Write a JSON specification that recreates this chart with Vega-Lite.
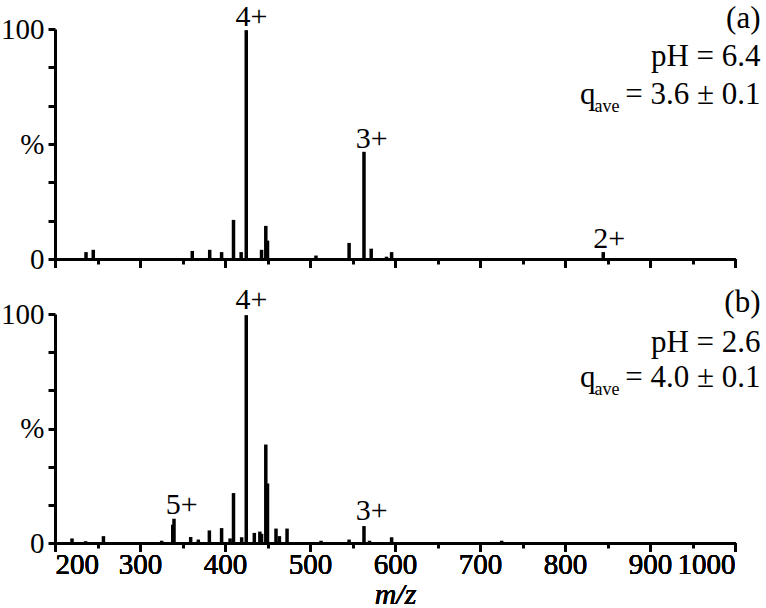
{
  "$schema": "https://vega.github.io/schema/vega-lite/v6.json",
  "padding": {"left": 0, "top": 1, "right": 0, "bottom": 0},
  "background": "white",
  "bounds": "flush",
  "spacing": 55,
  "config": {
    "font": "Liberation Serif",
    "view": {"stroke": null},
    "axis": {
      "domainColor": "black", "domainWidth": 3, "tickColor": "black", "tickWidth": 3, "tickSize": 7,
      "labelColor": "black", "labelFont": "Liberation Serif", "labelFontSize": 29,
      "grid": false, "titleFont": "Liberation Serif", "titleColor": "black"
    },
    "text": {"font": "Liberation Serif", "fontSize": 30, "color": "black"}
  },
  "datasets": {
    "peaksA": [
      {"mz": 236.5, "pct": 3}, {"mz": 245, "pct": 4}, {"mz": 361.5, "pct": 3.5}, {"mz": 382, "pct": 4},
      {"mz": 396, "pct": 3}, {"mz": 410, "pct": 17}, {"mz": 419, "pct": 3}, {"mz": 425, "pct": 99.5},
      {"mz": 443, "pct": 4}, {"mz": 448, "pct": 14.4}, {"mz": 450, "pct": 8}, {"mz": 507, "pct": 1.5},
      {"mz": 546, "pct": 7}, {"mz": 563.5, "pct": 46.6}, {"mz": 572, "pct": 4.5}, {"mz": 590, "pct": 1},
      {"mz": 596, "pct": 3}, {"mz": 845, "pct": 3}
    ],
    "peaksB": [
      {"mz": 220, "pct": 2}, {"mz": 236, "pct": 0.8}, {"mz": 257, "pct": 3}, {"mz": 325.5, "pct": 1},
      {"mz": 338.5, "pct": 8}, {"mz": 340, "pct": 10.6}, {"mz": 359.6, "pct": 2.6}, {"mz": 368.6, "pct": 1.5},
      {"mz": 381.6, "pct": 5.5}, {"mz": 396, "pct": 6.5}, {"mz": 406, "pct": 2}, {"mz": 410, "pct": 21.8},
      {"mz": 419.6, "pct": 2.5}, {"mz": 425, "pct": 99.5}, {"mz": 434.5, "pct": 4.4}, {"mz": 441, "pct": 5},
      {"mz": 443, "pct": 4}, {"mz": 448, "pct": 43}, {"mz": 450, "pct": 26}, {"mz": 460, "pct": 6.3},
      {"mz": 464, "pct": 3}, {"mz": 473, "pct": 6.3}, {"mz": 513, "pct": 1}, {"mz": 546, "pct": 1.5},
      {"mz": 563.5, "pct": 7.4}, {"mz": 570, "pct": 1}, {"mz": 596, "pct": 2.5}, {"mz": 725.5, "pct": 1}
    ],
    "labelsA": [
      {"mz": 431, "pct": 101.5, "label": "4+"},
      {"mz": 572.6, "pct": 48.2, "label": "3+"},
      {"mz": 852, "pct": 4.8, "label": "2+"}
    ],
    "labelsB": [
      {"mz": 431, "pct": 102.3, "label": "4+"},
      {"mz": 349, "pct": 12.8, "label": "5+"},
      {"mz": 572.6, "pct": 9.9, "label": "3+"}
    ],
    "notesA": [
      {"mz": 1030, "pct": 100.5, "text": "(a)"},
      {"mz": 1030, "pct": 83.8, "text": "pH = 6.4"},
      {"mz": 1030, "pct": 67.3, "text": "= 3.6 ± 0.1"}
    ],
    "qA": [{"mz": 1030, "pct": 67.3, "q": "q", "sub": "ave"}],
    "notesB": [
      {"mz": 1030, "pct": 100.9, "text": "(b)"},
      {"mz": 1030, "pct": 83.4, "text": "pH = 2.6"},
      {"mz": 1030, "pct": 68.1, "text": "= 4.0 ± 0.1"}
    ],
    "qB": [{"mz": 1030, "pct": 68.1, "q": "q", "sub": "ave"}],
    "minor": [{"mz": 250}, {"mz": 350}, {"mz": 450}, {"mz": 550}, {"mz": 650}, {"mz": 750}, {"mz": 850}, {"mz": 950}]
  },
  "vconcat": [
    {
      "width": 680, "height": 230,
      "resolve": {"axis": {"x": "independent"}},
      "encoding": {
        "x": {"field": "mz", "type": "quantitative", "scale": {"domain": [200, 1000], "nice": false},
          "axis": {"orient": "bottom", "values": [200,300,400,500,600,700,800,900,1000], "labels": false, "tickSize": 8, "title": null}},
        "y": {"field": "pct", "type": "quantitative", "scale": {"domain": [0, 100], "nice": false},
          "axis": {"values": [0, 16.667, 33.333, 50, 66.667, 83.333, 100], "labelPadding": 4,
            "labelExpr": "datum.value == 0 ? '0' : datum.value == 50 ? '%' : datum.value == 100 ? '100' : ''", "title": null}}
      },
      "layer": [
        {
          "data": {"name": "peaksA"},
          "mark": {"type": "rule", "color": "black", "strokeWidth": 3.5},
          "encoding": {"y2": {"datum": 0}}
        },
        {
          "data": {"name": "minor"},
          "mark": {"type": "point", "opacity": 0},
          "encoding": {
            "x": {"field": "mz", "type": "quantitative",
              "axis": {"orient": "bottom", "values": [250,350,450,550,650,750,850,950], "labels": false, "tickSize": 5, "domain": false, "title": null}},
            "y": {"datum": 0}
          }
        },
        {
          "data": {"name": "labelsA"},
          "mark": {"type": "text", "align": "center", "baseline": "alphabetic"},
          "encoding": {"text": {"field": "label"}}
        },
        {
          "data": {"name": "notesA"},
          "mark": {"type": "text", "align": "right", "baseline": "alphabetic", "fontSize": 31},
          "encoding": {"text": {"field": "text"}}
        },
        {
          "data": {"name": "qA"},
          "mark": {"type": "text", "align": "right", "baseline": "alphabetic", "dx": -165, "fontSize": 31},
          "encoding": {"text": {"field": "q"}}
        },
        {
          "data": {"name": "qA"},
          "mark": {"type": "text", "align": "right", "baseline": "alphabetic", "dx": -141, "dy": 8, "fontSize": 18},
          "encoding": {"text": {"field": "sub"}}
        }
      ]
    },
    {
      "width": 680, "height": 229,
      "resolve": {"axis": {"x": "independent"}},
      "encoding": {
        "x": {"field": "mz", "type": "quantitative", "scale": {"domain": [200, 1000], "nice": false},
          "axis": {"orient": "bottom", "values": [200,300,400,500,600,700,800,900,1000], "tickSize": 8,
            "labelExpr": "'' + datum.value", "labelPadding": -1,
            "title": "m/z", "titleFontStyle": "italic", "titleFontWeight": "normal", "titleFontSize": 30, "titlePadding": 0}},
        "y": {"field": "pct", "type": "quantitative", "scale": {"domain": [0, 100], "nice": false},
          "axis": {"values": [0, 16.667, 33.333, 50, 66.667, 83.333, 100], "labelPadding": 4,
            "labelExpr": "datum.value == 0 ? '0' : datum.value == 50 ? '%' : datum.value == 100 ? '100' : ''", "title": null}}
      },
      "layer": [
        {
          "data": {"name": "peaksB"},
          "mark": {"type": "rule", "color": "black", "strokeWidth": 3.5},
          "encoding": {"y2": {"datum": 0}}
        },
        {
          "data": {"name": "minor"},
          "mark": {"type": "point", "opacity": 0},
          "encoding": {
            "x": {"field": "mz", "type": "quantitative",
              "axis": {"orient": "bottom", "values": [250,350,450,550,650,750,850,950], "labels": false, "tickSize": 5, "domain": false, "title": null}},
            "y": {"datum": 0}
          }
        },
        {
          "data": {"name": "labelsB"},
          "mark": {"type": "text", "align": "center", "baseline": "alphabetic"},
          "encoding": {"text": {"field": "label"}}
        },
        {
          "data": {"name": "notesB"},
          "mark": {"type": "text", "align": "right", "baseline": "alphabetic", "fontSize": 31},
          "encoding": {"text": {"field": "text"}}
        },
        {
          "data": {"name": "qB"},
          "mark": {"type": "text", "align": "right", "baseline": "alphabetic", "dx": -165, "fontSize": 31},
          "encoding": {"text": {"field": "q"}}
        },
        {
          "data": {"name": "qB"},
          "mark": {"type": "text", "align": "right", "baseline": "alphabetic", "dx": -141, "dy": 8, "fontSize": 18},
          "encoding": {"text": {"field": "sub"}}
        }
      ]
    }
  ]
}
